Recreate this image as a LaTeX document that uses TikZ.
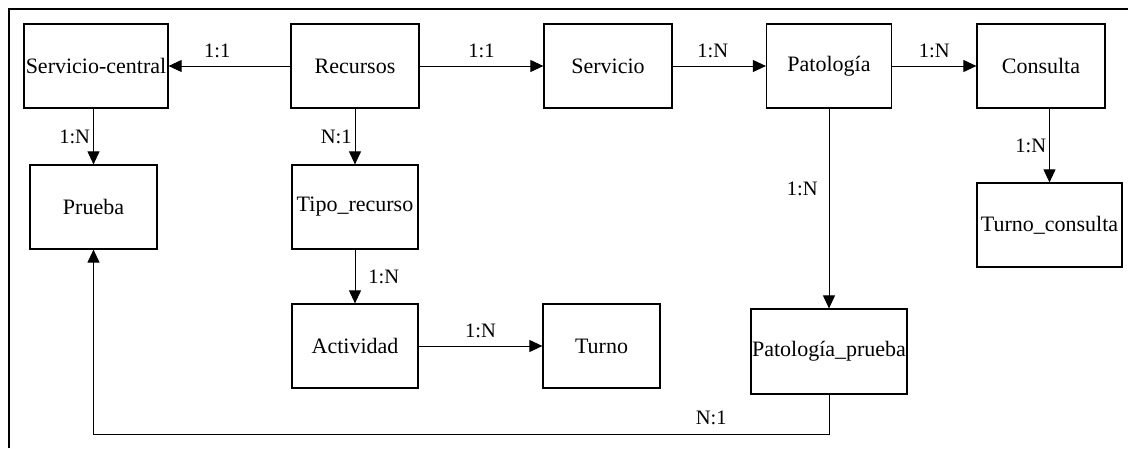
\documentclass[tikz,border=0pt]{standalone}
\usepackage{fontspec}
\setmainfont{Liberation Serif}
\usetikzlibrary{arrows.meta}

\begin{document}
\begin{tikzpicture}[x=1pt,y=-1pt,
  ent/.style={draw,line width=1.2pt,minimum height=84pt,inner sep=0pt,font=\fontsize{22}{26}\selectfont},
  rel/.style={line width=0.9pt,-{Triangle[length=13pt,width=12pt]}},
  card/.style={font=\fontsize{20.5}{24}\selectfont,inner sep=3pt}]
\useasboundingbox (0,0) rectangle (1128,448);
\draw[line width=2.5pt] (9,448) -- (9,9) -- (1128,9);
% entities
\node[ent,minimum width=144pt] (sc) at (96,66) {Servicio-central};
\node[ent,minimum width=128pt] (rec) at (355,66) {Recursos};
\node[ent,minimum width=128pt] (serv) at (608,66) {Servicio};
\node[ent,minimum width=125pt] (pat) at (829,66) {Patología};
\node[ent,minimum width=128pt] (cons) at (1041,66) {Consulta};
\node[ent,minimum width=127pt] (prueba) at (93.5,207) {Prueba};
\node[ent,minimum width=126pt] (tipo) at (355,207) {Tipo\_recurso};
\node[ent,minimum width=126pt] (act) at (355,346) {Actividad};
\node[ent,minimum width=117pt] (turno) at (601.5,346) {Turno};
\node[ent,minimum width=156pt,minimum height=85pt] (pp) at (829,351.5) {Patología\_prueba};
\node[ent,minimum width=145pt] (tc) at (1049.5,225) {Turno\_consulta};
% relations
\draw[rel] (rec) -- node[card,above=5pt,pos=0.6] {1:1} (sc);
\draw[rel] (rec) -- node[card,above=5pt] {1:1} (serv);
\draw[rel] (serv) -- node[card,above=5pt,pos=0.43] {1:N} (pat);
\draw[rel] (pat) -- node[card,above=5pt] {1:N} (cons);
\draw[rel] (sc.south -| prueba) -- node[card,left=0pt] {1:N} (prueba);
\draw[rel] (rec) -- node[card,left=0pt] {N:1} (tipo);
\draw[rel] (tipo) -- node[card,right=10pt] {1:N} (act);
\draw[rel] (act) -- node[card,above=5pt] {1:N} (turno);
\draw[rel] (pat) -- node[card,left=8pt,pos=0.4] {1:N} (pp);
\draw[rel] (cons.south -| tc) -- node[card,left=0pt] {1:N} (tc);
\draw[rel] (pp.south) -- ++(0,40) -| node[card,above=6pt,pos=0.08] {N:1} (prueba.south);
\end{tikzpicture}
\end{document}
